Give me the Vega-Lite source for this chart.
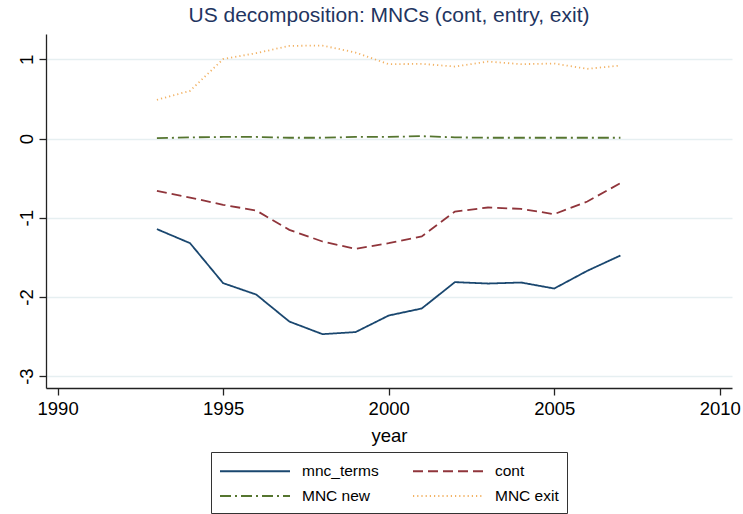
{
  "$schema": "https://vega.github.io/schema/vega-lite/v6.json",
  "width": 686,
  "height": 354,
  "autosize": {"type": "none"},
  "padding": {"left": 46, "top": 34, "right": 11, "bottom": 126},
  "background": "white",
  "title": {
    "text": "US decomposition: MNCs (cont, entry, exit)",
    "font": "Liberation Sans",
    "fontSize": 21,
    "fontWeight": "normal",
    "color": "#1f3561",
    "anchor": "middle",
    "offset": 8
  },
  "data": {
    "values": [
      {"year": 1993, "series": "mnc_terms", "value": -1.144},
      {"year": 1994, "series": "mnc_terms", "value": -1.321},
      {"year": 1995, "series": "mnc_terms", "value": -1.826},
      {"year": 1996, "series": "mnc_terms", "value": -1.970},
      {"year": 1997, "series": "mnc_terms", "value": -2.311},
      {"year": 1998, "series": "mnc_terms", "value": -2.470},
      {"year": 1999, "series": "mnc_terms", "value": -2.444},
      {"year": 2000, "series": "mnc_terms", "value": -2.235},
      {"year": 2001, "series": "mnc_terms", "value": -2.146},
      {"year": 2002, "series": "mnc_terms", "value": -1.813},
      {"year": 2003, "series": "mnc_terms", "value": -1.831},
      {"year": 2004, "series": "mnc_terms", "value": -1.818},
      {"year": 2005, "series": "mnc_terms", "value": -1.894},
      {"year": 2006, "series": "mnc_terms", "value": -1.670},
      {"year": 2007, "series": "mnc_terms", "value": -1.477},
      {"year": 1993, "series": "cont", "value": -0.660},
      {"year": 1994, "series": "cont", "value": -0.745},
      {"year": 1995, "series": "cont", "value": -0.837},
      {"year": 1996, "series": "cont", "value": -0.909},
      {"year": 1997, "series": "cont", "value": -1.153},
      {"year": 1998, "series": "cont", "value": -1.300},
      {"year": 1999, "series": "cont", "value": -1.393},
      {"year": 2000, "series": "cont", "value": -1.321},
      {"year": 2001, "series": "cont", "value": -1.237},
      {"year": 2002, "series": "cont", "value": -0.922},
      {"year": 2003, "series": "cont", "value": -0.871},
      {"year": 2004, "series": "cont", "value": -0.888},
      {"year": 2005, "series": "cont", "value": -0.955},
      {"year": 2006, "series": "cont", "value": -0.795},
      {"year": 2007, "series": "cont", "value": -0.563},
      {"year": 1993, "series": "MNC new", "value": 0.005},
      {"year": 1994, "series": "MNC new", "value": 0.015},
      {"year": 1995, "series": "MNC new", "value": 0.020},
      {"year": 1996, "series": "MNC new", "value": 0.020},
      {"year": 1997, "series": "MNC new", "value": 0.010},
      {"year": 1998, "series": "MNC new", "value": 0.010},
      {"year": 1999, "series": "MNC new", "value": 0.020},
      {"year": 2000, "series": "MNC new", "value": 0.020},
      {"year": 2001, "series": "MNC new", "value": 0.030},
      {"year": 2002, "series": "MNC new", "value": 0.015},
      {"year": 2003, "series": "MNC new", "value": 0.010},
      {"year": 2004, "series": "MNC new", "value": 0.010},
      {"year": 2005, "series": "MNC new", "value": 0.010},
      {"year": 2006, "series": "MNC new", "value": 0.010},
      {"year": 2007, "series": "MNC new", "value": 0.010},
      {"year": 1993, "series": "MNC exit", "value": 0.489},
      {"year": 1994, "series": "MNC exit", "value": 0.602},
      {"year": 1995, "series": "MNC exit", "value": 1.003},
      {"year": 1996, "series": "MNC exit", "value": 1.078},
      {"year": 1997, "series": "MNC exit", "value": 1.170},
      {"year": 1998, "series": "MNC exit", "value": 1.174},
      {"year": 1999, "series": "MNC exit", "value": 1.086},
      {"year": 2000, "series": "MNC exit", "value": 0.939},
      {"year": 2001, "series": "MNC exit", "value": 0.943},
      {"year": 2002, "series": "MNC exit", "value": 0.909},
      {"year": 2003, "series": "MNC exit", "value": 0.972},
      {"year": 2004, "series": "MNC exit", "value": 0.939},
      {"year": 2005, "series": "MNC exit", "value": 0.947},
      {"year": 2006, "series": "MNC exit", "value": 0.880},
      {"year": 2007, "series": "MNC exit", "value": 0.922}
    ]
  },
  "mark": {"type": "line", "strokeWidth": 1.8},
  "encoding": {
    "x": {
      "field": "year",
      "type": "quantitative",
      "scale": {"domain": [1989.65, 2010.37], "nice": false, "zero": false},
      "axis": {
        "values": [1990, 1995, 2000, 2005, 2010],
        "format": "d",
        "grid": false,
        "title": "year",
        "labelPadding": 4,
        "titlePadding": 9
      }
    },
    "y": {
      "field": "value",
      "type": "quantitative",
      "scale": {"domain": [-3.15, 1.32], "nice": false, "zero": false},
      "axis": {
        "values": [-3, -2, -1, 0, 1],
        "labelExpr": "'' + datum.value",
        "title": null,
        "labelAngle": -90,
        "labelAlign": "center",
        "labelBaseline": "bottom",
        "labelPadding": 3,
        "grid": true
      }
    },
    "color": {
      "field": "series",
      "type": "nominal",
      "scale": {
        "domain": ["mnc_terms", "cont", "MNC new", "MNC exit"],
        "range": ["#1a476f", "#90353b", "#55752f", "#f2b264"]
      },
      "legend": {
        "orient": "none",
        "legendX": 165,
        "legendY": 418,
        "columns": 2,
        "direction": "horizontal",
        "title": null
      }
    },
    "strokeDash": {
      "field": "series",
      "type": "nominal",
      "scale": {
        "domain": ["mnc_terms", "cont", "MNC new", "MNC exit"],
        "range": [[1, 0], [10, 5], [11, 4, 2, 4], [1.2, 3]]
      },
      "legend": {
        "orient": "none",
        "legendX": 165,
        "legendY": 418,
        "columns": 2,
        "direction": "horizontal",
        "title": null
      }
    }
  },
  "config": {
    "view": {"stroke": null},
    "font": "Liberation Sans",
    "axis": {
      "labelFont": "Liberation Sans",
      "labelFontSize": 18.5,
      "labelColor": "#000000",
      "titleFont": "Liberation Sans",
      "titleFontSize": 18.5,
      "titleFontWeight": "normal",
      "titleColor": "#000000",
      "domainColor": "#222222",
      "domainWidth": 1.3,
      "tickColor": "#222222",
      "tickWidth": 1.3,
      "tickSize": 7,
      "gridColor": "#e6eff1",
      "gridWidth": 1.5
    },
    "legend": {
      "symbolType": "M-1,0H6",
      "symbolSize": 400,
      "symbolStrokeWidth": 1.8,
      "symbolFillColor": "transparent",
      "labelFont": "Liberation Sans",
      "labelFontSize": 15.5,
      "labelColor": "#000000",
      "labelOffset": 61,
      "strokeColor": "#333333",
      "padding": 8,
      "columnPadding": 30,
      "rowPadding": 5,
      "fillColor": "white"
    }
  }
}
